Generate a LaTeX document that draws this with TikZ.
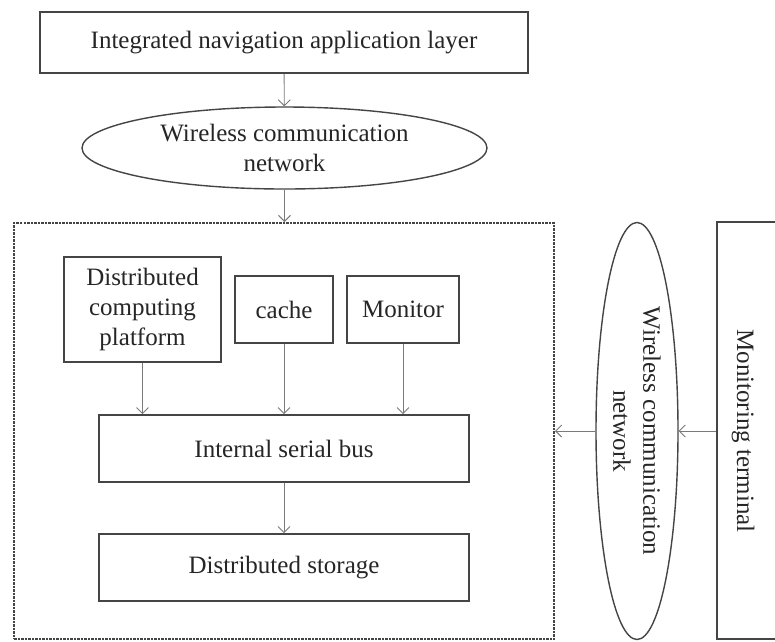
\documentclass[tikz,border=0pt]{standalone}
\usepackage{fontspec}
\setmainfont{Liberation Serif}
\usetikzlibrary{shapes.geometric,arrows.meta}
\definecolor{boxc}{HTML}{454545}
\definecolor{arrc}{HTML}{7A7A7A}
\definecolor{txtc}{HTML}{262626}
\tikzset{
  every node/.style={text=txtc,font=\fontsize{25}{30}\selectfont},
  box/.style={draw=boxc,line width=1.7pt,rectangle,inner sep=0pt,align=center},
  ell/.style={draw=boxc,line width=1.4pt,ellipse,inner sep=0pt,align=center},
  arr/.style={draw=arrc,line width=0.9pt,-{Straight Barb[length=6pt,width=12pt]}},
  frame/.style={draw=boxc,line width=2pt,dash pattern=on 2.5pt off 1pt,rectangle,inner sep=0pt}
}
\begin{document}
\begin{tikzpicture}[x=1pt,y=-1pt]
\useasboundingbox (0,0) rectangle (775,641);
\fill[white] (0,0) rectangle (775,641);
\node[box,minimum width=488,minimum height=61] (top) at (284,42.5) {Integrated navigation application layer};
\node[ell,minimum width=405,minimum height=82] (hell) at (284.5,148) {Wireless communication\\network};
\node[frame,minimum width=540,minimum height=416] (frm) at (284,431) {};
\node[box,minimum width=157,minimum height=105] (dcp) at (142.5,309.5) {Distributed\\computing\\platform};
\node[box,minimum width=98,minimum height=67] (cache) at (284,309.5) {cache};
\node[box,minimum width=112,minimum height=67] (mon) at (403,309.5) {Monitor};
\node[box,minimum width=370,minimum height=67] (bus) at (284,448.5) {Internal serial bus};
\node[box,minimum width=370,minimum height=67] (sto) at (284,567.5) {Distributed storage};
\node[ell,rotate=-90,minimum width=417,minimum height=82] (vell) at (637,431) {Wireless communication\\network};
\node[box,minimum width=90,minimum height=417] (term) at (762,430.5) {};
\node[rotate=-90] (termlbl) at (743,431) {Monitoring terminal};
\draw[arr] (top) -- (hell);
\draw[arr] (hell) -- (frm.north -| hell.south);
\draw[arr] (dcp.south) -- (dcp.south |- bus.north);
\draw[arr] (cache.south) -- (cache.south |- bus.north);
\draw[arr] (mon.south) -- (mon.south |- bus.north);
\draw[arr] (bus) -- (sto);
\draw[arr] (term.west |- vell.center) -- (vell);
\draw[arr] (vell) -- (frm.east |- vell.center);
\end{tikzpicture}
\end{document}
